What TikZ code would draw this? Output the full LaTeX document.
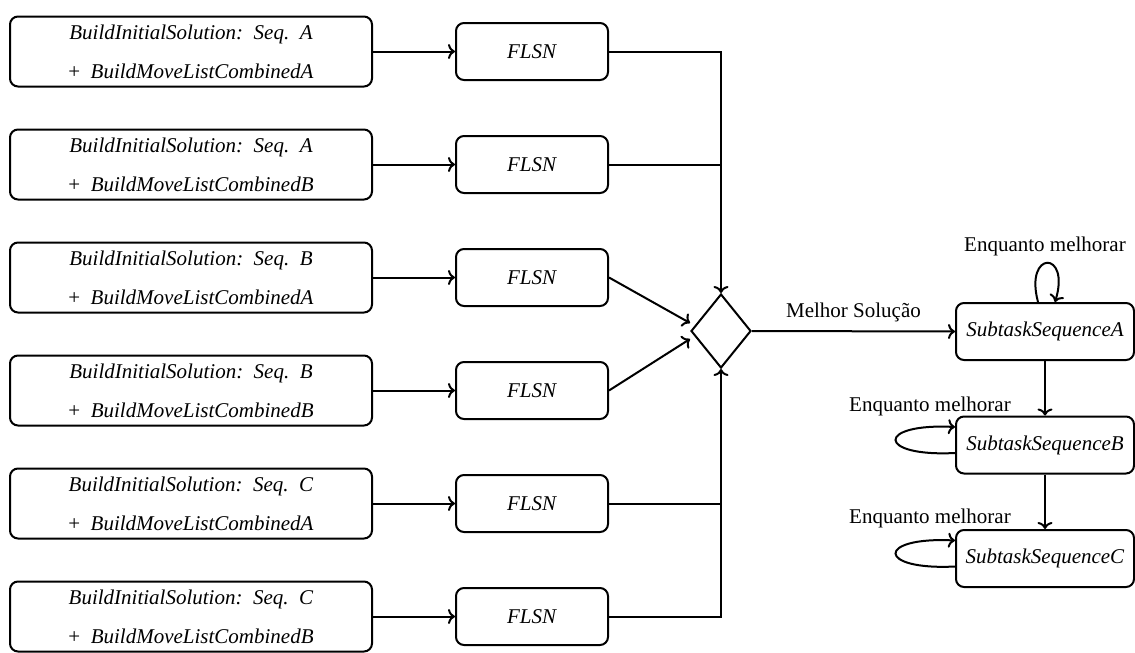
\documentclass[tikz,border=0pt]{standalone}
\usepackage{fontspec}
\setmainfont{Liberation Serif}
\usetikzlibrary{arrows.meta,shapes.geometric,calc}
\begin{document}
\begin{tikzpicture}[x=1pt,y=-1pt,
  every node/.style={font=\fontsize{21}{25}\selectfont},
  lw/.style={line width=2pt},
  seedbox/.style={draw,lw,rounded corners=8pt,minimum width=362pt,minimum height=70pt,
    align=center,inner sep=0pt,font=\fontsize{21}{39}\selectfont},
  lsbox/.style={draw,lw,rounded corners=8pt,minimum width=152pt,minimum height=57pt,inner sep=0pt},
  subbox/.style={draw,lw,rounded corners=8pt,minimum width=178pt,minimum height=57pt,inner sep=0pt},
  conn/.style={lw,-{To[length=7pt,width=15pt]}},
  link/.style={lw},
  merge/.style={draw,lw,diamond,minimum width=60pt,minimum height=74pt,inner sep=0pt,aspect=0.8},
]
\useasboundingbox (0,0) rectangle (1135,653);

% initial constructions and their local searches
\foreach \i/\s/\m [count=\k from 0] in {1/A/A,2/A/B,3/B/A,4/B/B,5/C/A,6/C/B}{
  \pgfmathsetmacro{\yy}{51.5+113*\k}
  \node[seedbox] (b\i) at (191,\yy)
    {\textit{BuildInitialSolution:\ \ Seq.\ \ \s}\\+\ \ \textit{BuildMoveListCombined\m}};
  \node[lsbox] (f\i) at (532,\yy) {\textit{FLSN}};
  \draw[conn] (b\i) -- (f\i);
}

% selection of the best solution
\node[merge] (d) at (721,331) {};
\draw[conn] (f1.east) -| (d.north);
\draw[link] (f2.east) -- (f2.east -| d.north);
\draw[conn] (f3.east) -- ([yshift=8pt]d.west);
\draw[conn] (f4.east) -- ([yshift=-8pt]d.west);
\draw[link] (f5.east) -- (f5.east -| d.south);
\draw[conn] (f6.east) -| (d.south);

% subtask refinement chain
\node[subbox] (sa) at (1045,331.5) {\textit{SubtaskSequenceA}};
\node[subbox] (sb) at (1045,445) {\textit{SubtaskSequenceB}};
\node[subbox] (sc) at (1045,558.5) {\textit{SubtaskSequenceC}};

\draw[conn] (d.east) -- node[above=5pt] (best) {Melhor Solução} (sa.west);
\draw[conn] (sa) -- (sb);
\draw[conn] (sb) -- (sc);

% improvement loops
\draw[conn] ([xshift=-7pt]sa.north) .. controls +(-14,-52) and +(16,-52) .. ([xshift=10pt]sa.north);
\draw[conn] ([yshift=-8pt]sb.west) .. controls +(-79,4) and +(-79,-4) .. ([yshift=18pt]sb.west);
\draw[conn] ([yshift=-8pt]sc.west) .. controls +(-79,4) and +(-79,-4) .. ([yshift=18pt]sc.west);

\node (la) at (1045,246) {Enquanto melhorar};
\node (lb) at (930,406) {Enquanto melhorar};
\node (lc) at (930,518) {Enquanto melhorar};
\end{tikzpicture}
\end{document}
